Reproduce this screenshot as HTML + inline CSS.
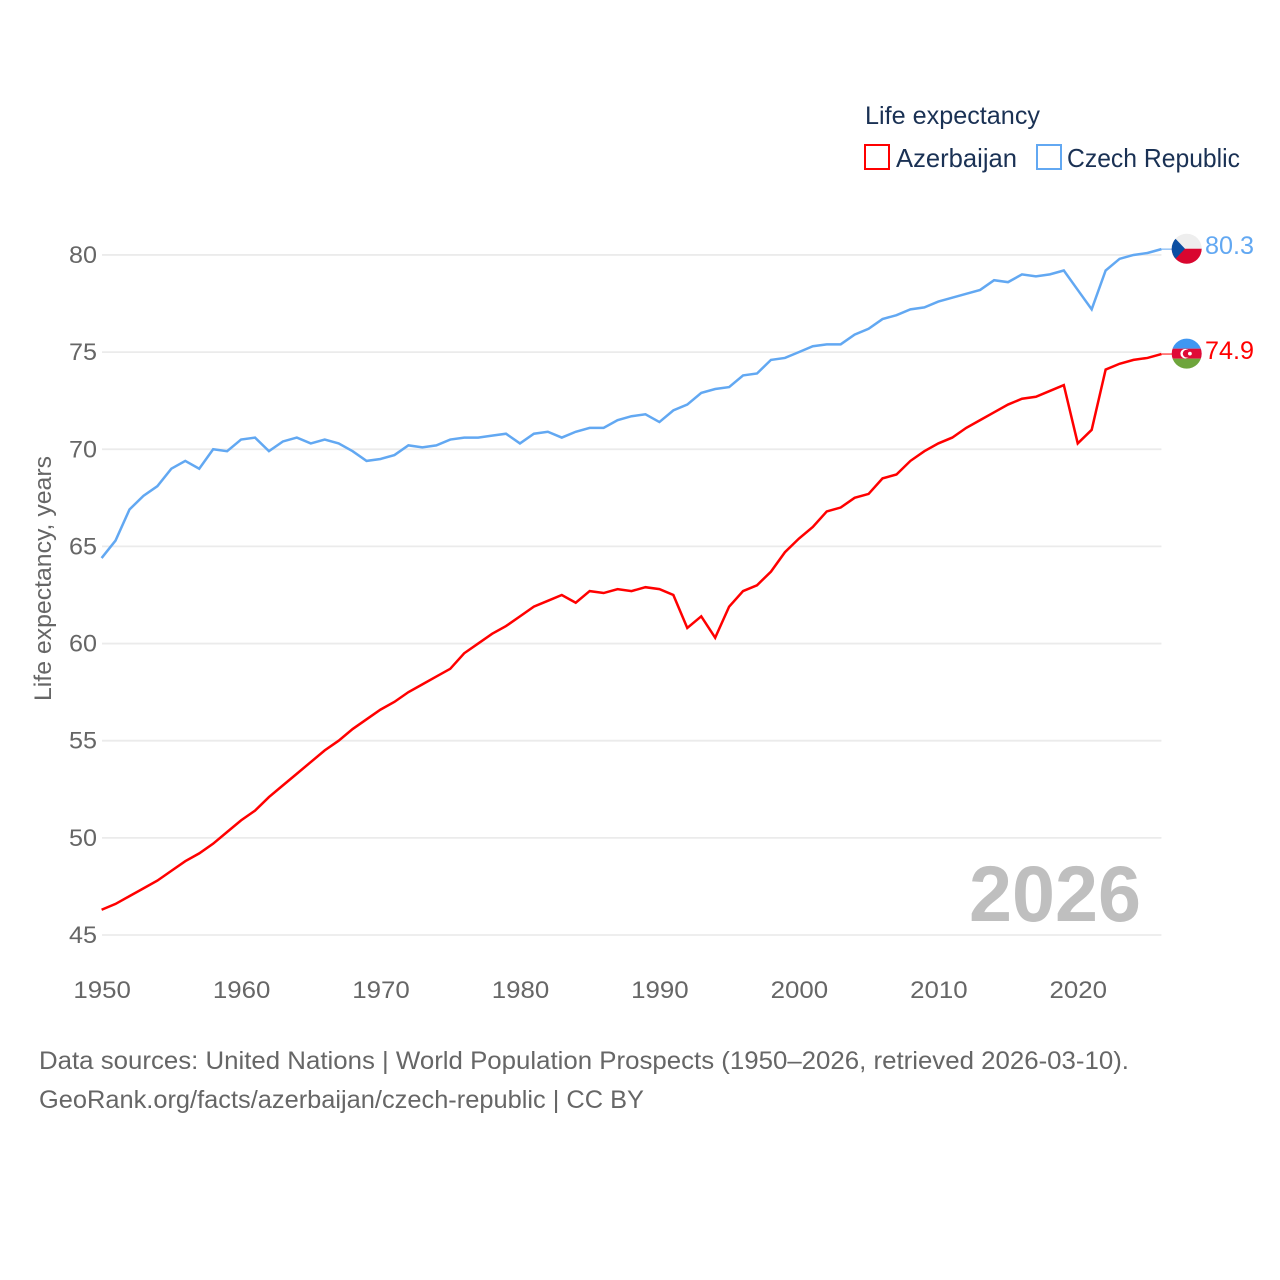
<!DOCTYPE html>
<html lang="en">
<head>
<meta charset="utf-8">
<title>Life expectancy: Azerbaijan and Czech Republic</title>
<style>
html,body{margin:0;padding:0;background:#fff;width:1280px;height:1280px;overflow:hidden}
svg{display:block}
text{font-family:"Liberation Sans",sans-serif}
</style>
</head>
<body>
<svg id="chart" xmlns="http://www.w3.org/2000/svg" width="1280" height="1280" viewBox="0 0 1280 1280">
  <defs>
    <clipPath id="flag-clip-cz"><circle cx="0" cy="0" r="15"/></clipPath>
    <clipPath id="flag-clip-az"><circle cx="0" cy="0" r="15"/></clipPath>
  </defs>
  <g id="grid"></g>
  <g id="yticks"></g>
  <g id="xticks"></g>
  <text transform="translate(51,701) rotate(-90)" font-size="24" fill="#666666" textLength="245" lengthAdjust="spacingAndGlyphs">Life expectancy, years</text>
  <text x="969" y="921" font-size="79" font-weight="700" fill="#bfbfbf" textLength="172" lengthAdjust="spacingAndGlyphs">2026</text>
  <g id="series"></g>
  <g id="flag-cz" clip-path="url(#flag-clip-cz)">
    <rect x="-16" y="-16" width="32" height="16" fill="#eeeeee"/>
    <rect x="-16" y="0" width="32" height="16" fill="#d9062f"/>
    <polygon points="-16,-15 -16,15 -1.7,0" fill="#0b4ea2"/>
  </g>
  <g id="flag-az" clip-path="url(#flag-clip-az)">
    <rect x="-16" y="-16" width="32" height="11" fill="#3f97f2"/>
    <rect x="-16" y="-5" width="32" height="10" fill="#df0a37"/>
    <rect x="-16" y="5" width="32" height="11" fill="#6ea53c"/>
    <circle cx="-1.5" cy="0" r="4.8" fill="#ffffff"/>
    <circle cx="0" cy="0" r="3.9" fill="#df0a37"/>
    <circle cx="3.2" cy="0" r="1.9" fill="#ffffff"/>
  </g>
  <text id="end-cz" x="1205" font-size="25" fill="#62a8f2" textLength="49" lengthAdjust="spacingAndGlyphs"></text>
  <text id="end-az" x="1205" font-size="25" fill="#ff0000" textLength="49" lengthAdjust="spacingAndGlyphs"></text>
  <g>
    <text x="865" y="124" font-size="25" fill="#1a3154" textLength="175" lengthAdjust="spacingAndGlyphs">Life expectancy</text>
    <rect x="865" y="145" width="24" height="24" fill="#ffffff" stroke="#ff0000" stroke-width="2"/>
    <text x="896" y="167" font-size="26" fill="#1a3154" textLength="121" lengthAdjust="spacingAndGlyphs">Azerbaijan</text>
    <rect x="1037" y="145" width="24" height="24" fill="#ffffff" stroke="#62a8f2" stroke-width="2"/>
    <text x="1067" y="167" font-size="26" fill="#1a3154" textLength="173" lengthAdjust="spacingAndGlyphs">Czech Republic</text>
  </g>
  <text x="39" y="1069" font-size="25" fill="#666666" textLength="1090" lengthAdjust="spacingAndGlyphs">Data sources: United Nations | World Population Prospects (1950–2026, retrieved 2026-03-10).</text>
  <text x="39" y="1108" font-size="25" fill="#666666" textLength="605" lengthAdjust="spacingAndGlyphs">GeoRank.org/facts/azerbaijan/czech-republic | CC BY</text>
</svg>
<script>
const startYear = 1950;
const xTickYears = [1950, 1960, 1970, 1980, 1990, 2000, 2010, 2020];
const yTickValues = [45, 50, 55, 60, 65, 70, 75, 80];
const czechValues = [64.4,65.3,66.9,67.6,68.1,69.0,69.4,69.0,70.0,69.9,70.5,70.6,69.9,70.4,70.6,70.3,70.5,70.3,69.9,69.4,69.5,69.7,70.2,70.1,70.2,70.5,70.6,70.6,70.7,70.8,70.3,70.8,70.9,70.6,70.9,71.1,71.1,71.5,71.7,71.8,71.4,72.0,72.3,72.9,73.1,73.2,73.8,73.9,74.6,74.7,75.0,75.3,75.4,75.4,75.9,76.2,76.7,76.9,77.2,77.3,77.6,77.8,78.0,78.2,78.7,78.6,79.0,78.9,79.0,79.2,78.2,77.2,79.2,79.8,80.0,80.1,80.3];
const azerbaijanValues = [46.3,46.6,47.0,47.4,47.8,48.3,48.8,49.2,49.7,50.3,50.9,51.4,52.1,52.7,53.3,53.9,54.5,55.0,55.6,56.1,56.6,57.0,57.5,57.9,58.3,58.7,59.5,60.0,60.5,60.9,61.4,61.9,62.2,62.5,62.1,62.7,62.6,62.8,62.7,62.9,62.8,62.5,60.8,61.4,60.3,61.9,62.7,63.0,63.7,64.7,65.4,66.0,66.8,67.0,67.5,67.7,68.5,68.7,69.4,69.9,70.3,70.6,71.1,71.5,71.9,72.3,72.6,72.7,73.0,73.3,70.3,71.0,74.1,74.4,74.6,74.7,74.9];

const NS = 'http://www.w3.org/2000/svg';
const xScale = function (year) { return 101.6 + (year - 1950) * 13.945; };
const yScale = function (value) { return 935 - (value - 45) * 19.43; };
const plotRight = xScale(2026);
const flagX = 1186.7;

const grid = document.getElementById('grid');
const yticks = document.getElementById('yticks');
const xticks = document.getElementById('xticks');
const seriesGroup = document.getElementById('series');

yTickValues.forEach(function (v) {
  const line = document.createElementNS(NS, 'line');
  
  
  line.setAttribute('x1', 102);
  line.setAttribute('x2', plotRight);
  line.setAttribute('y1', yScale(v));
  line.setAttribute('y2', yScale(v));
  line.setAttribute('stroke', '#ebebeb');
  line.setAttribute('stroke-width', 1.8);
  grid.appendChild(line);

  const label = document.createElementNS(NS, 'text');
  
  
  label.setAttribute('x', 69);
  label.setAttribute('y', yScale(v) + 8);
  label.setAttribute('font-size', 24.5);
  label.setAttribute('fill', '#666666');
  label.setAttribute('textLength', 28);
  label.setAttribute('lengthAdjust', 'spacingAndGlyphs');
  label.textContent = String(v);
  yticks.appendChild(label);
});

xTickYears.forEach(function (y) {
  const label = document.createElementNS(NS, 'text');
  
  
  label.setAttribute('x', xScale(y) - 28.2);
  label.setAttribute('y', 998);
  label.setAttribute('font-size', 24.5);
  label.setAttribute('fill', '#666666');
  label.setAttribute('textLength', 57.5);
  label.setAttribute('lengthAdjust', 'spacingAndGlyphs');
  label.textContent = String(y);
  xticks.appendChild(label);
});

function seriesPoints(values) {
  return values.map(function (v, i) {
    return xScale(startYear + i).toFixed(2) + ',' + yScale(v).toFixed(2);
  }).join(' ');
}

function lastOf(values) { return values[values.length - 1]; }

const czechLine = document.createElementNS(NS, 'polyline');


czechLine.setAttribute('points', seriesPoints(czechValues));
czechLine.setAttribute('fill', 'none');
czechLine.setAttribute('stroke', '#62a8f2');
czechLine.setAttribute('stroke-width', 2.5);
seriesGroup.appendChild(czechLine);

const azerbaijanLine = document.createElementNS(NS, 'polyline');


azerbaijanLine.setAttribute('points', seriesPoints(azerbaijanValues));
azerbaijanLine.setAttribute('fill', 'none');
azerbaijanLine.setAttribute('stroke', '#ff0000');
azerbaijanLine.setAttribute('stroke-width', 2.5);
seriesGroup.appendChild(azerbaijanLine);

const czechLeader = document.createElementNS(NS, 'line');


czechLeader.setAttribute('x1', plotRight);
czechLeader.setAttribute('x2', flagX - 14);
czechLeader.setAttribute('y1', yScale(lastOf(czechValues)));
czechLeader.setAttribute('y2', yScale(lastOf(czechValues)));
czechLeader.setAttribute('stroke', '#62a8f2');
czechLeader.setAttribute('stroke-width', 1);
seriesGroup.appendChild(czechLeader);

const azerbaijanLeader = document.createElementNS(NS, 'line');


azerbaijanLeader.setAttribute('x1', plotRight);
azerbaijanLeader.setAttribute('x2', flagX - 14);
azerbaijanLeader.setAttribute('y1', yScale(lastOf(azerbaijanValues)));
azerbaijanLeader.setAttribute('y2', yScale(lastOf(azerbaijanValues)));
azerbaijanLeader.setAttribute('stroke', '#ff0000');
azerbaijanLeader.setAttribute('stroke-width', 1);
seriesGroup.appendChild(azerbaijanLeader);

const czY = yScale(lastOf(czechValues)) - 0.4;
const azY = yScale(lastOf(azerbaijanValues)) - 0.4;
document.getElementById('flag-cz').setAttribute('transform', 'translate(' + flagX + ',' + czY + ')');
document.getElementById('flag-az').setAttribute('transform', 'translate(' + flagX + ',' + azY + ')');

const endCz = document.getElementById('end-cz');
endCz.setAttribute('y', czY + 5.5);
endCz.textContent = lastOf(czechValues).toFixed(1);
const endAz = document.getElementById('end-az');
endAz.setAttribute('y', azY + 5.5);
endAz.textContent = lastOf(azerbaijanValues).toFixed(1);
</script>
</body>
</html>
